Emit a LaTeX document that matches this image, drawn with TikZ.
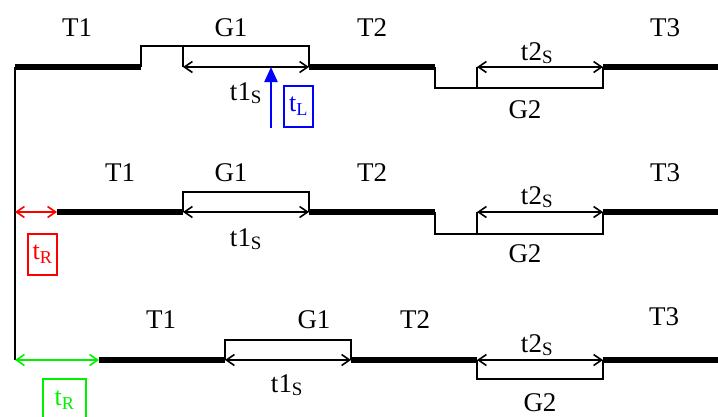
\documentclass[tikz,border=0pt]{standalone}
\usepackage{fontspec}
\setmainfont{Liberation Serif}
\usetikzlibrary{arrows.meta}
\definecolor{colorload}{HTML}{0000FF}
\definecolor{colorrel}{HTML}{FF0000}
\definecolor{colorrelb}{HTML}{00F000}
\tikzset{gate/.pic={
        \path [draw, pic actions] (0,0) --
        ++(0,#1) --
        ++(126,0) --
        ++(0,{-(#1)});
    }
}
\tikzset{slack/.pic={
        \path [draw, pic actions] (0,0) --
        ++(0,#1) --
        ++(42,0);
    }
}
\begin{document}
\begin{tikzpicture}[x=1pt, y=-1pt,
        track/.style={line width=6.5pt},
        guard/.style={line width=1.6pt},
        span/.style={{Straight Barb[length=8pt,width=11pt]}-{Straight Barb[length=8pt,width=11pt]}, line width=1.6pt},
        lbl/.style={anchor=base, inner sep=0pt, font=\fontsize{27}{31}\selectfont},
        tbox/.style={draw, line width=1.6pt, minimum width=29pt, minimum height=41pt, inner sep=2pt, font=\fontsize{26}{30}\selectfont}]
        \useasboundingbox (0,0) rectangle (718,416);

        % row starts
        \coordinate (o1) at (15,67);
        \coordinate (o2) at (15,212);
        \coordinate (o3) at (15,360);
        \coordinate (s2) at (57,212);
        \coordinate (s3) at (99,360);
        \draw[guard] (o1) -- (o3);

        \foreach \a/\b/\y in {15/141/67,309/435/67,603/718/67,57/183/212,309/435/212,603/718/212,99/225/360,351/477/360,603/718/360} {
            \draw[track] (\a,\y) -- (\b,\y);
        }

        \foreach \x/\y/\h in {183/67/-21,477/67/21,183/212/-20,477/212/22,225/360/-20,477/360/19} {
            \draw (\x,\y) pic [guard] {gate=\h};
            \draw[span] (\x,\y) -- ++(126,0);
        }

        \foreach \x/\y/\h in {141/67/-21,435/67/21,435/212/22} {
            \draw (\x,\y) pic [guard] {slack=\h};
        }

        % labels, row 1
        \node[lbl] (T1a) at (77,36) {T1};
        \node[lbl] (G1a) at (231,36) {G1};
        \node[lbl] (T2a) at (372,36) {T2};
        \node[lbl] (T3a) at (665,36) {T3};
        \node[lbl] (S1a) at (246,100) {t1\textsubscript{S}};
        \node[lbl] (S2a) at (537,60) {t2\textsubscript{S}};
        \node[lbl] (G2a) at (525,118) {G2};

        % labels, row 2
        \node[lbl] (T1b) at (120,181) {T1};
        \node[lbl] (G1b) at (231,181) {G1};
        \node[lbl] (T2b) at (372,181) {T2};
        \node[lbl] (T3b) at (665,181) {T3};
        \node[lbl] (S1b) at (246,246) {t1\textsubscript{S}};
        \node[lbl] (S2b) at (537,204) {t2\textsubscript{S}};
        \node[lbl] (G2b) at (525,262) {G2};

        % labels, row 3
        \node[lbl] (T1c) at (161,328) {T1};
        \node[lbl] (G1c) at (314,328) {G1};
        \node[lbl] (T2c) at (415,328) {T2};
        \node[lbl] (T3c) at (664,325) {T3};
        \node[lbl] (S1c) at (287,392) {t1\textsubscript{S}};
        \node[lbl] (S2c) at (537,352) {t2\textsubscript{S}};
        \node[lbl] (G2c) at (540,411) {G2};

        % load and release marks
        \coordinate (lfoot) at (271,128);
        \coordinate (lhit) at (271,67);
        \draw[colorload, line width=2.2pt, -{Triangle[length=15pt,width=13pt]}] (lfoot) -- (lhit);
        \node[tbox, colorload] (tL) at (298.5,106.5) {t\textsubscript{L}};

        \draw[span, colorrel] (o2) -- (s2);
        \node[tbox, colorrel] (tR) at (42.5,254.5) {t\textsubscript{R}};

        \draw[span, colorrelb] (o3) -- (s3);
        \node[tbox, colorrelb, minimum width=43pt, minimum height=43pt] (tRb) at (64.5,400.5) {t\textsubscript{R}};
    \end{tikzpicture}
\end{document}
